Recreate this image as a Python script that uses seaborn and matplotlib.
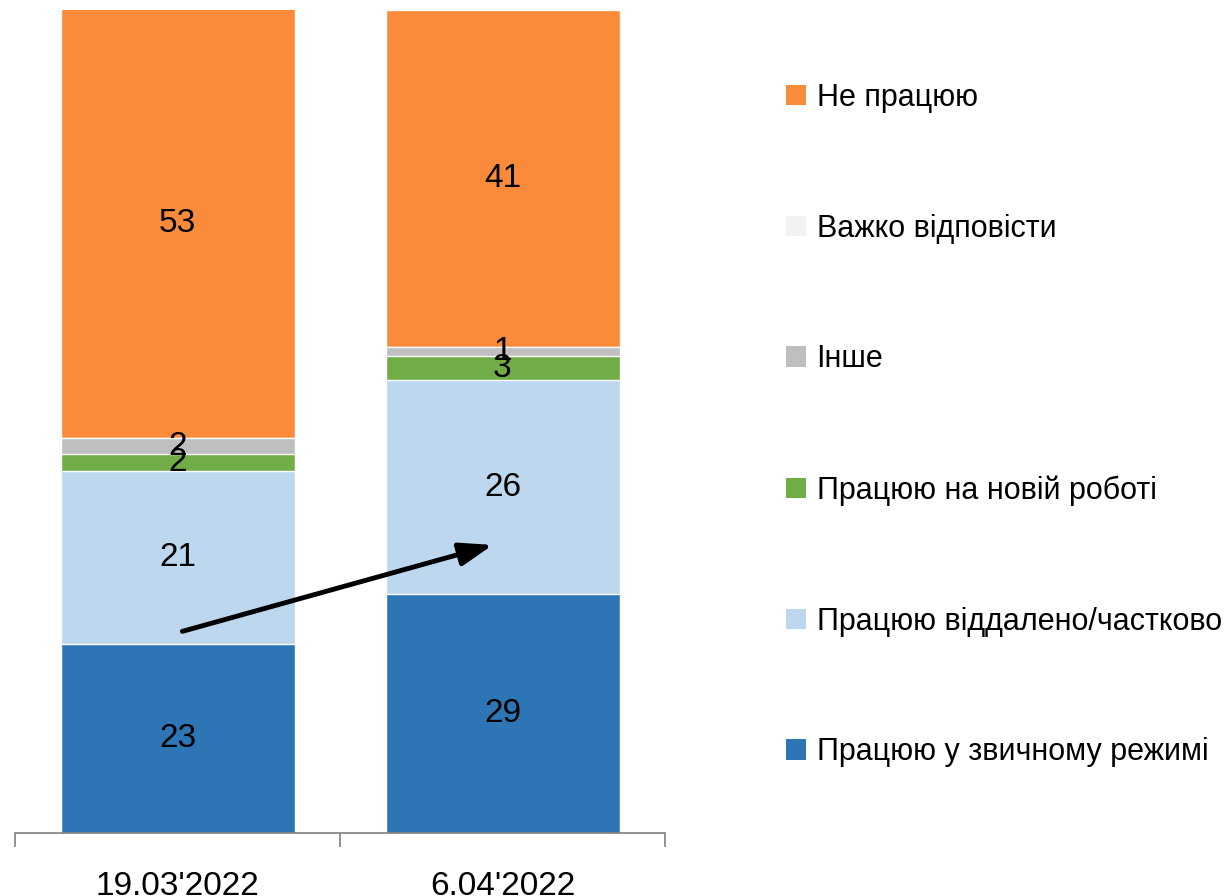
import seaborn as sns
import matplotlib.pyplot as plt
import pandas as pd
import numpy as np
from matplotlib.patches import Patch

# Data (bottom -> top)
dates = ["19.03'2022", "6.04'2022"]
series = ["Працюю у звичному режимі", "Працюю віддалено/частково", "Працюю на новій роботі",
          "Інше", "Важко відповісти", "Не працюю"]
works_usual = [23, 29]
works_remote = [21, 26]
works_new = [2, 3]
other = [2, 1]
hard_to_say = [0, 0]
not_working = [53, 41]
colors = ["#2E75B6", "#BDD7EE", "#70AD47", "#BFBFBF", "#F2F2F2", "#F98B3A"]

# Plot configuration
sns.set_style("white")
plt.rcParams['font.family'] = ['Liberation Sans Narrow', 'Liberation Sans', 'DejaVu Sans']

values = [works_usual, works_remote, works_new, other, hard_to_say, not_working]
df = pd.DataFrame({"date": dates})
cum = np.zeros(len(dates))
for i, v in enumerate(values):
    cum = cum + np.array(v)
    df["cum_%d" % i] = cum

fig = plt.figure(figsize=(12.27, 8.96), dpi=100)
ax = fig.add_axes([15/1227, 63/896, 650/1227, 823/896])

# 1. Stacked bars: draw cumulative totals from the top down
for i in reversed(range(len(values))):
    sns.barplot(data=df, x="date", y="cum_%d" % i, color=colors[i], width=0.72,
                saturation=1, ax=ax, zorder=2)

# 2. Value labels (centre of the visible part of each segment)
for j in range(len(dates)):
    base = 0
    for i, v in enumerate(values):
        if v[j] > 0:
            ax.text(j, (base + min(base + v[j], 100)) / 2, str(v[j]),
                    ha="center", va="center", fontsize=24, color="black", zorder=5)
        base += v[j]

# 3. Arrow
ax.annotate("", xy=(0.97, 35.0), xytext=(0.015, 24.5),
            arrowprops=dict(arrowstyle="-|>,head_length=2.0,head_width=0.7", color="black",
                            lw=3.5, shrinkA=0, shrinkB=0), zorder=6)

ax.set_ylim(0, 100)
ax.set_xlim(-0.5, 1.5)
ax.set_xlabel("")
ax.set_ylabel("")
ax.set_yticks([])
for s in ["top", "right", "left"]:
    ax.spines[s].set_visible(False)
ax.spines["bottom"].set_color("#808080")
ax.spines["bottom"].set_linewidth(1.2)
ax.tick_params(axis="x", which="major", bottom=False, length=0, labelsize=24,
               labelcolor="black", pad=27)
ax.set_xticks([-0.5, 0.5, 1.5], minor=True)
ax.tick_params(axis="x", which="minor", bottom=True, length=10, width=1.2,
               color="#808080", direction="out")

# 4. Legend (top entry = top of stack)
handles = [Patch(facecolor=colors[i], edgecolor="none") for i in reversed(range(len(series)))]
labels = [series[i] for i in reversed(range(len(series)))]
fig.legend(handles, labels, loc="center left", bbox_to_anchor=(786/1227, 1 - 425/896),
           frameon=False, fontsize=22, labelcolor="black", handlelength=0.65, handleheight=0.65,
           handletextpad=0.35, labelspacing=3.3, borderpad=0, borderaxespad=0)

plt.savefig("out.png", dpi=100)
